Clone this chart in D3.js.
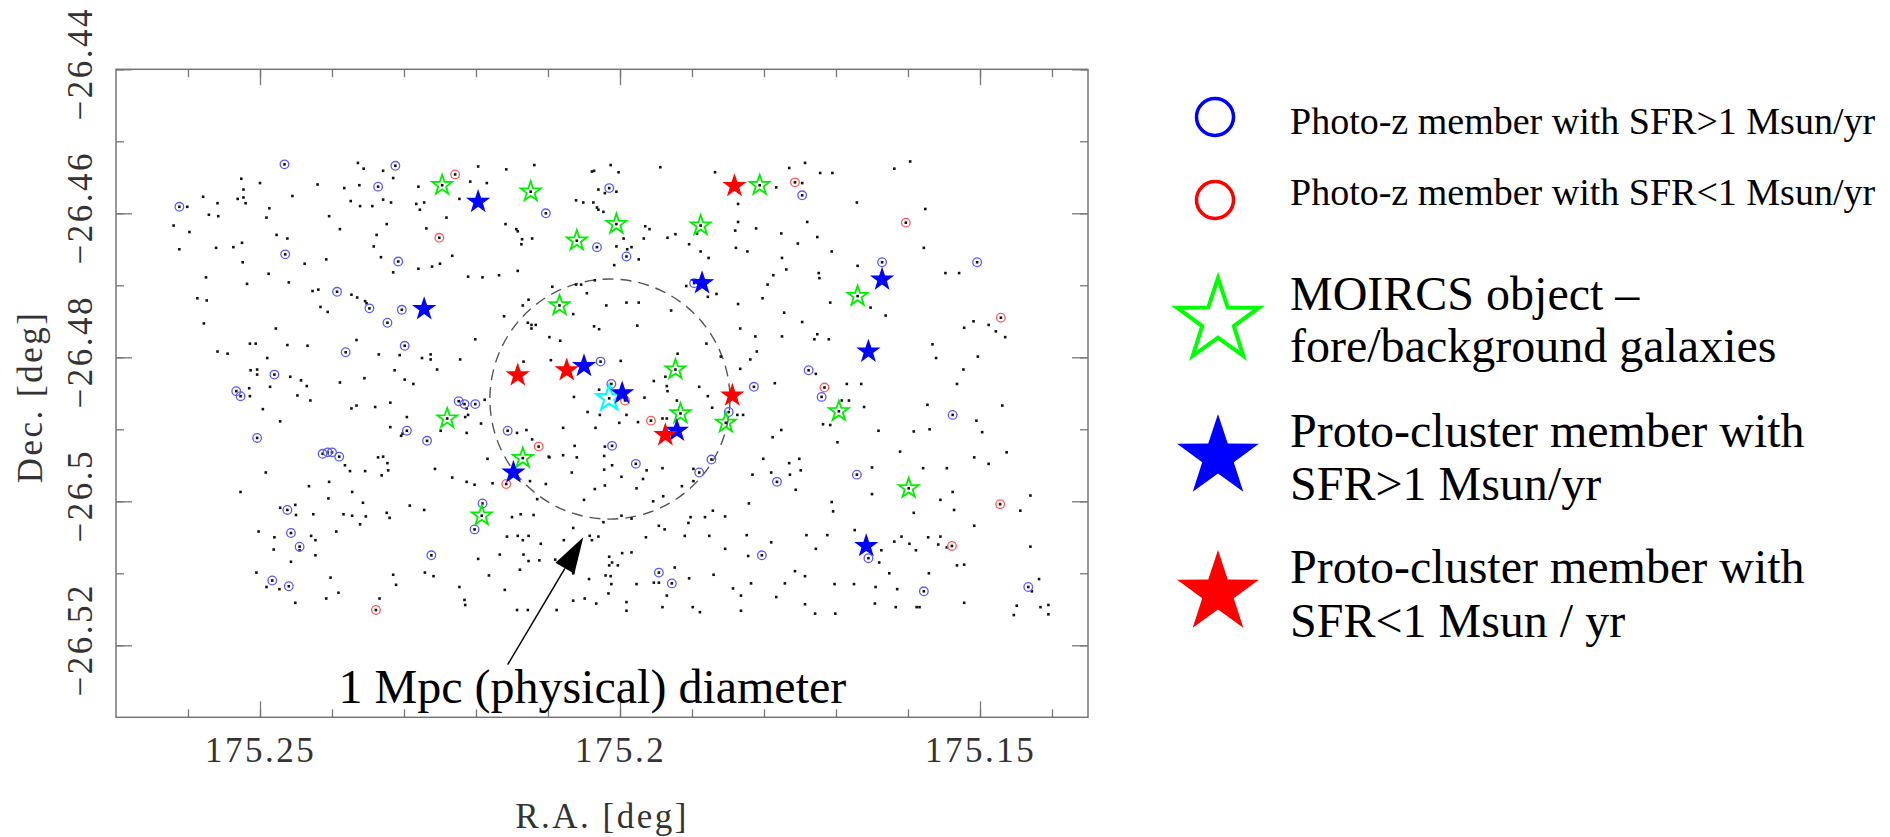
<!DOCTYPE html>
<html><head><meta charset="utf-8">
<script src="https://cdn.jsdelivr.net/npm/d3@7"></script>
<style>body{margin:0;background:#fff;} svg{display:block}</style>
</head><body>
<svg id="c" width="1890" height="837"></svg>
<script>
// ---------------- DATA ----------------
const raDomain = [175.27, 175.135];
const decDomain = [-26.44, -26.53];
const raMinorTicks = [175.26,175.25,175.24,175.23,175.22,175.21,175.20,175.19,175.18,175.17,175.16,175.15,175.14];
const raMajorTicks = [175.25,175.20,175.15];
const raTickLabels = ["175.25","175.2","175.15"];
const decMinorTicks = [-26.44,-26.45,-26.46,-26.47,-26.48,-26.49,-26.50,-26.51,-26.52];
const decMajorTicks = [-26.44,-26.46,-26.48,-26.50,-26.52];
const decTickLabels = ["\u221226.44","\u221226.46","\u221226.48","\u221226.5","\u221226.52"];

// catalogue objects (RA, Dec in deg)
const catalogDots = [
[175.2364,-26.4530],[175.2356,-26.4538],[175.2329,-26.4541],[175.2315,-26.4551],[175.2197,-26.4535],[175.2158,-26.4539],[175.2119,-26.4533],[175.2526,-26.4552],[175.2500,-26.4558],[175.2420,-26.4560],[175.2383,-26.4565],[175.2362,-26.4561],[175.2280,-26.4563],[175.2208,-26.4556],[175.2185,-26.4558],[175.2579,-26.4577],[175.2559,-26.4586],[175.2531,-26.4580],[175.2523,-26.4578],[175.2520,-26.4586],[175.2523,-26.4567],[175.2455,-26.4576],[175.2374,-26.4583],[175.2361,-26.4590],[175.2344,-26.4590],[175.2329,-26.4581],[175.2318,-26.4585],[175.2283,-26.4587],[175.2272,-26.4585],[175.2278,-26.4595],[175.2223,-26.4580],[175.2601,-26.4591],[175.2571,-26.4602],[175.2558,-26.4604],[175.2487,-26.4593],[175.2491,-26.4606],[175.2404,-26.4604],[175.2241,-26.4606],[175.2620,-26.4617],[175.2598,-26.4626],[175.2389,-26.4622],[175.2324,-26.4615],[175.2269,-26.4621],[175.2159,-26.4615],[175.2144,-26.4622],[175.2142,-26.4625],[175.2612,-26.4650],[175.2561,-26.4648],[175.2537,-26.4647],[175.2525,-26.4641],[175.2477,-26.4630],[175.2462,-26.4635],[175.2338,-26.4630],[175.2342,-26.4646],[175.2136,-26.4636],[175.2122,-26.4635],[175.2137,-26.4643],[175.2524,-26.4668],[175.2438,-26.4670],[175.2408,-26.4664],[175.2332,-26.4661],[175.2233,-26.4659],[175.2250,-26.4670],[175.2261,-26.4674],[175.2280,-26.4677],[175.2315,-26.4682],[175.2142,-26.4680],[175.2575,-26.4689],[175.2488,-26.4684],[175.2518,-26.4698],[175.2460,-26.4696],[175.2211,-26.4688],[175.2191,-26.4689],[175.2168,-26.4686],[175.2587,-26.4718],[175.2574,-26.4721],[175.2427,-26.4708],[175.2419,-26.4706],[175.2373,-26.4713],[175.2365,-26.4717],[175.2354,-26.4722],[175.2352,-26.4725],[175.2416,-26.4730],[175.2406,-26.4737],[175.2161,-26.4743],[175.2135,-26.4728],[175.2127,-26.4720],[175.2578,-26.4753],[175.2478,-26.4760],[175.2128,-26.4752],[175.2123,-26.4755],[175.2117,-26.4755],[175.2123,-26.4760],[175.2366,-26.4776],[175.2559,-26.4792],[175.2545,-26.4795],[175.2514,-26.4781],[175.2506,-26.4781],[175.2462,-26.4783],[175.2434,-26.4784],[175.2335,-26.4796],[175.2306,-26.4797],[175.2275,-26.4801],[175.2263,-26.4796],[175.2263,-26.4803],[175.2222,-26.4803],[175.2201,-26.4775],[175.2098,-26.4772],[175.2254,-26.4817],[175.2490,-26.4801],[175.2513,-26.4818],[175.2504,-26.4817],[175.2504,-26.4824],[175.2458,-26.4827],[175.2443,-26.4832],[175.2435,-26.4840],[175.2486,-26.4841],[175.2389,-26.4835],[175.2355,-26.4829],[175.2313,-26.4818],[175.2299,-26.4831],[175.2287,-26.4837],[175.2134,-26.4806],[175.2515,-26.4843],[175.2514,-26.4854],[175.2448,-26.4853],[175.2430,-26.4860],[175.2373,-26.4871],[175.2366,-26.4867],[175.2340,-26.4869],[175.2319,-26.4863],[175.2188,-26.4859],[175.2296,-26.4883],
[175.2496,-26.4872],[175.2472,-26.4889],[175.2319,-26.4897],[175.2304,-26.4909],[175.2302,-26.4906],[175.2249,-26.4902],[175.2213,-26.4905],[175.2213,-26.4871],[175.2215,-26.4883],[175.2211,-26.4880],[175.2193,-26.4892],[175.2143,-26.4905],[175.2130,-26.4901],[175.2122,-26.4914],[175.2099,-26.4938],[175.2492,-26.4960],[175.2527,-26.4987],[175.2432,-26.4979],[175.2404,-26.4973],[175.2382,-26.4950],[175.2375,-26.4958],[175.2354,-26.4958],[175.2336,-26.4939],[175.2329,-26.4938],[175.2323,-26.4947],[175.2322,-26.4957],[175.2331,-26.4964],[175.2257,-26.4955],[175.2233,-26.4967],[175.2213,-26.4973],[175.2202,-26.4977],[175.2184,-26.4941],[175.2177,-26.4975],[175.2125,-26.4972],[175.2103,-26.4976],[175.2098,-26.4939],[175.2405,-26.4996],[175.2372,-26.4987],[175.2357,-26.5002],[175.2472,-26.5009],[175.2451,-26.5005],[175.2450,-26.5019],[175.2426,-26.5018],[175.2384,-26.5018],[175.2372,-26.5020],[175.2361,-26.5032],[175.2353,-26.5021],[175.2324,-26.5016],[175.2320,-26.5023],[175.2292,-26.5006],[175.2272,-26.5012],[175.2150,-26.5022],[175.2138,-26.5018],[175.2120,-26.5019],[175.2115,-26.4997],[175.2502,-26.5042],[175.2480,-26.5050],[175.2481,-26.5067],[175.2429,-26.5048],[175.2423,-26.5054],[175.2423,-26.5075],[175.2457,-26.5084],[175.2445,-26.5068],[175.2394,-26.5042],[175.2157,-26.5049],[175.2142,-26.5048],[175.2135,-26.5054],[175.2127,-26.5048],[175.2110,-26.5059],[175.2134,-26.5074],[175.2127,-26.5083],[175.2112,-26.5082],[175.2197,-26.5080],[175.2167,-26.5074],[175.2505,-26.5099],[175.2491,-26.5119],[175.2473,-26.5122],[175.2451,-26.5141],[175.2402,-26.5106],[175.2391,-26.5127],[175.2408,-26.5135],[175.2334,-26.5135],[175.2315,-26.5102],[175.2311,-26.5116],[175.2271,-26.5099],[175.2259,-26.5104],[175.2223,-26.5119],[175.2216,-26.5137],[175.2215,-26.5144],[175.2182,-26.5103],[175.2160,-26.5123],[175.2139,-26.5095],[175.2143,-26.5151],[175.2128,-26.5151],[175.2088,-26.5151],
[175.2013,-26.4533],[175.2039,-26.4542],[175.2036,-26.4541],[175.2002,-26.4543],[175.1944,-26.4536],[175.1868,-26.4543],[175.1765,-26.4537],[175.1743,-26.4530],[175.1722,-26.4544],[175.1705,-26.4544],[175.1619,-26.4538],[175.1597,-26.4528],[175.2030,-26.4567],[175.2021,-26.4572],[175.2005,-26.4570],[175.2061,-26.4582],[175.2051,-26.4585],[175.2037,-26.4585],[175.2032,-26.4592],[175.2030,-26.4595],[175.2023,-26.4598],[175.1783,-26.4564],[175.1747,-26.4558],[175.1836,-26.4587],[175.1671,-26.4585],[175.1576,-26.4594],[175.1965,-26.4618],[175.1959,-26.4622],[175.1923,-26.4629],[175.1934,-26.4634],[175.1995,-26.4635],[175.2005,-26.4646],[175.1984,-26.4647],[175.1990,-26.4650],[175.1974,-26.4664],[175.2008,-26.4672],[175.1967,-26.4635],[175.1904,-26.4643],[175.1893,-26.4628],[175.1888,-26.4653],[175.1877,-26.4662],[175.1836,-26.4612],[175.1840,-26.4624],[175.1811,-26.4621],[175.1839,-26.4648],[175.1823,-26.4653],[175.1776,-26.4628],[175.1775,-26.4662],[175.1753,-26.4642],[175.1740,-26.4612],[175.1726,-26.4633],[175.1706,-26.4653],[175.1578,-26.4648],[175.1769,-26.4678],[175.1787,-26.4686],[175.1724,-26.4683],[175.1723,-26.4690],[175.1670,-26.4673],[175.1548,-26.4683],[175.1529,-26.4683],[175.2094,-26.4702],[175.2061,-26.4699],[175.2054,-26.4699],[175.2046,-26.4711],[175.2035,-26.4693],[175.1908,-26.4701],[175.1878,-26.4716],[175.1866,-26.4712],[175.1795,-26.4699],[175.1802,-26.4718],[175.1836,-26.4726],[175.1708,-26.4724],[175.1652,-26.4731],[175.1631,-26.4742],[175.2019,-26.4728],[175.1991,-26.4724],[175.1974,-26.4724],[175.1929,-26.4735],[175.2065,-26.4740],[175.2036,-26.4757],[175.2029,-26.4761],[175.1976,-26.4756],[175.1772,-26.4738],[175.1747,-26.4751],[175.1833,-26.4760],[175.1812,-26.4771],[175.1775,-26.4771],[175.1726,-26.4768],[175.1730,-26.4775],[175.1710,-26.4775],[175.1566,-26.4782],[175.1561,-26.4801],[175.1522,-26.4759],[175.1509,-26.4750],[175.1488,-26.4755],[175.1478,-26.4764],[175.1465,-26.4772],[175.1503,-26.4799],[175.1523,-26.4817],[175.1532,-26.4837],[175.1573,-26.4866],[175.1469,-26.4867],[175.2083,-26.4777],[175.1880,-26.4781],[175.1810,-26.4792],[175.1819,-26.4803],[175.2096,-26.4804],[175.1999,-26.4805],[175.1920,-26.4795],[175.1860,-26.4799],[175.1833,-26.4816],[175.1785,-26.4836],[175.1685,-26.4837],[175.1665,-26.4837],[175.1953,-26.4833],[175.1937,-26.4827],[175.1935,-26.4840],[175.1934,-26.4847],[175.1890,-26.4841],[175.1878,-26.4854],[175.2064,-26.4855],[175.2029,-26.4845],[175.1966,-26.4856],[175.1921,-26.4860],[175.1872,-26.4870],[175.1692,-26.4860],[175.1682,-26.4860],[175.1661,-26.4869],[175.1728,-26.4823],[175.2028,-26.4880],[175.1991,-26.4880],
[175.2045,-26.4876],[175.2034,-26.4898],[175.2079,-26.4898],[175.2001,-26.4891],[175.1975,-26.4890],[175.1941,-26.4885],[175.1935,-26.4885],[175.1837,-26.4880],[175.1829,-26.4880],[175.2063,-26.4923],[175.2021,-26.4924],[175.2079,-26.4936],[175.2060,-26.4939],[175.2022,-26.4937],[175.2011,-26.4950],[175.2022,-26.4956],[175.2067,-26.4960],[175.1998,-26.4966],[175.1963,-26.4957],[175.1941,-26.4954],[175.1898,-26.4955],[175.1968,-26.4969],[175.1977,-26.4982],[175.2021,-26.4978],[175.2035,-26.4983],[175.2050,-26.4998],[175.1954,-26.5000],[175.1940,-26.4993],[175.1914,-26.4979],[175.1898,-26.4972],[175.1871,-26.5013],[175.1902,-26.5022],[175.1905,-26.5030],[175.1882,-26.5022],[175.1854,-26.5021],[175.2023,-26.5029],[175.1998,-26.5020],[175.1984,-26.5024],[175.1938,-26.5039],[175.1946,-26.5034],[175.1964,-26.5050],[175.1910,-26.5048],[175.1876,-26.5048],[175.1854,-26.5066],[175.1824,-26.5047],[175.1821,-26.5003],[175.2065,-26.5037],[175.2078,-26.5054],[175.2042,-26.5048],[175.2039,-26.5054],[175.2030,-26.5049],[175.2090,-26.5081],[175.2015,-26.5077],[175.2011,-26.5085],[175.2015,-26.5089],[175.2003,-26.5089],[175.1997,-26.5072],[175.1984,-26.5071],[175.2065,-26.5100],[175.2043,-26.5108],[175.2020,-26.5103],[175.2013,-26.5104],[175.2012,-26.5115],[175.2016,-26.5128],[175.2065,-26.5138],[175.2049,-26.5135],[175.2033,-26.5142],[175.1991,-26.5140],[175.1991,-26.5152],[175.1977,-26.5115],[175.1953,-26.5113],[175.1946,-26.5113],[175.1935,-26.5131],[175.1941,-26.5147],[175.1924,-26.5092],[175.1904,-26.5107],[175.1899,-26.5147],[175.1889,-26.5154],[175.1870,-26.5102],[175.1843,-26.5121],[175.1832,-26.5131],[175.1832,-26.5152],[175.1822,-26.5076],[175.1818,-26.5114],[175.1790,-26.5057],[175.1783,-26.5133],[175.1771,-26.5114],[175.1757,-26.5097],[175.1743,-26.5104],[175.1741,-26.5047],[175.1728,-26.5066],[175.1712,-26.5047],[175.1702,-26.5115],[175.1729,-26.5156],[175.1701,-26.5156],[175.1743,-26.5143],[175.1675,-26.5115],[175.1645,-26.5119],[175.1640,-26.5085],[175.1637,-26.5068],[175.1646,-26.5142],[175.1626,-26.5100],[175.1615,-26.5122],[175.1617,-26.5147],[175.1588,-26.5147],[175.1584,-26.5147],[175.1571,-26.5100],[175.1619,-26.5056],[175.1609,-26.5049],[175.1598,-26.5059],[175.1589,-26.5068],[175.1572,-26.5050],[175.1555,-26.5049],[175.1558,-26.5060],[175.1546,-26.5064],[175.1532,-26.5089],[175.1522,-26.5088],[175.1522,-26.5141],[175.1508,-26.5034],[175.1430,-26.5063],[175.1449,-26.5145],[175.1418,-26.5108],[175.1416,-26.5147],[175.1405,-26.5144],[175.1405,-26.5157],[175.1453,-26.5158],[175.1428,-26.5125],[175.1816,-26.4963],[175.1790,-26.4960],[175.1764,-26.4963],[175.1749,-26.4957],[175.1756,-26.4984],[175.1765,-26.4947],[175.1751,-26.4941],[175.1801,-26.4941],[175.1776,-26.4901],[175.1788,-26.4911],[175.1706,-26.5001],[175.1704,-26.5014],[175.1674,-26.5040],[175.1650,-26.4990],[175.1650,-26.4953],[175.1611,-26.4931],[175.1592,-26.4903],[175.1570,-26.4900],[175.1579,-26.4954],[175.1546,-26.4954],[175.1555,-26.4998],[175.1536,-26.5012],[175.1538,-26.4987],[175.1508,-26.4939],[175.1488,-26.4948],[175.1463,-26.4932],[175.1444,-26.5013],[175.1430,-26.4992],[175.1505,-26.4888],[175.1497,-26.4904],[175.1698,-26.4918],[175.1718,-26.4893],[175.1708,-26.4894],[175.1592,-26.5016],[175.1641,-26.4902]
];

const photozHighSFR = [
[175.2466,-26.4532],[175.2312,-26.4534],[175.2336,-26.4563],[175.2612,-26.4591],[175.2103,-26.4600],[175.2465,-26.4657],[175.2308,-26.4667],[175.2393,-26.4709],[175.2348,-26.4732],[175.2303,-26.4734],[175.2323,-26.4752],[175.2299,-26.4784],[175.2381,-26.4793],[175.2480,-26.4824],[175.2533,-26.4847],[175.2527,-26.4854],[175.2224,-26.4861],[175.2216,-26.4865],[175.2201,-26.4865],
[175.2504,-26.4912],[175.2296,-26.4902],[175.2268,-26.4916],[175.2156,-26.4902],[175.2413,-26.4934],[175.2406,-26.4932],[175.2400,-26.4932],[175.2390,-26.4938],[175.2462,-26.5012],[175.2457,-26.5044],[175.2445,-26.5063],[175.2191,-26.5003],[175.2202,-26.5039],[175.2262,-26.5075],[175.2483,-26.5110],[175.2460,-26.5118],
[175.2015,-26.4565],[175.2032,-26.4647],[175.1991,-26.4660],[175.1747,-26.4575],[175.1636,-26.4668],[175.1504,-26.4668],[175.1897,-26.4697],[175.2027,-26.4806],[175.2012,-26.4837],[175.1738,-26.4818],[175.1720,-26.4855],[175.1814,-26.4841],
[175.2011,-26.4923],[175.1978,-26.4948],[175.1890,-26.4960],[175.1873,-26.4942],[175.1849,-26.4876],[175.1782,-26.4973],[175.1671,-26.4963],[175.1538,-26.4880],[175.1803,-26.5075],[175.1655,-26.5079],[175.1946,-26.5099],[175.1928,-26.5114],[175.1578,-26.5125],[175.1433,-26.5119]
];
const photozLowSFR = [
[175.2229,-26.4546],[175.2251,-26.4634],[175.2113,-26.4924],[175.2158,-26.4976],[175.2339,-26.5151],[175.1757,-26.4557],[175.1603,-26.4613],[175.1471,-26.4745],[175.1716,-26.4842],[175.1993,-26.4860],[175.1957,-26.4888],[175.1472,-26.5004],[175.1539,-26.5062]
];
const moircsForeBack = [
[175.2247,-26.4561],[175.2124,-26.4570],[175.2060,-26.4638],[175.2005,-26.4615],[175.1888,-26.4617],[175.1806,-26.4561],[175.2084,-26.4728],[175.1670,-26.4715],[175.1923,-26.4817],[175.1916,-26.4878],[175.1853,-26.4891],[175.1696,-26.4875],[175.1599,-26.4982],[175.2240,-26.4885],[175.2135,-26.4940],[175.2192,-26.5020]
];
const protoHighSFR = [
[175.2197,-26.4584],[175.2272,-26.4733],[175.1886,-26.4697],[175.1636,-26.4692],[175.1655,-26.4792],[175.2050,-26.4812],[175.1997,-26.4850],[175.1921,-26.4902],[175.1658,-26.5062],[175.2148,-26.4960]
];
const protoLowSFR = [
[175.2142,-26.4825],[175.1841,-26.4562],[175.2074,-26.4818],[175.1844,-26.4853],[175.1937,-26.4908]
];
const centralObject = [[175.2015,-26.4857]];

// 1 Mpc (physical) diameter circle and annotation arrow
const circleCentre = [175.2014, -26.4858];
const circleRadiusDeg = 0.01667;
const arrowTail = [175.2156, -26.5227];
const arrowHead = [175.2051, -26.5050];
const annotText = "1 Mpc (physical) diameter";
const annotPos = [175.2391, -26.5280];

const xAxisTitle = "R.A. [deg]";
const yAxisTitle = "Dec. [deg]";

const legendLabels = [
  ["Photo-z member with SFR>1 Msun/yr"],
  ["Photo-z member with SFR<1 Msun/yr"],
  ["MOIRCS object \u2013", "fore/background galaxies"],
  ["Proto-cluster member with", "SFR>1 Msun/yr"],
  ["Proto-cluster member with", "SFR<1 Msun / yr"]
];

// ---------------- DRAW ----------------
const svg = d3.select("#c");
const x = d3.scaleLinear().domain(raDomain).range([116, 1088]);
const y = d3.scaleLinear().domain(decDomain).range([69.3, 717.3]);
const axisColor = "#777";
const serif = "'Liberation Serif', 'Times New Roman', serif";

function starPath(R, r) {
  const pts = [];
  for (let i = 0; i < 10; i++) {
    const a = -Math.PI / 2 + i * Math.PI / 5;
    const rad = i % 2 === 0 ? R : r;
    pts.push([rad * Math.cos(a), rad * Math.sin(a)]);
  }
  return "M" + pts.map(p => p[0].toFixed(2) + "," + p[1].toFixed(2)).join("L") + "Z";
}

// frame
svg.append("rect").attr("x", x(raDomain[0])).attr("y", y(decDomain[0]))
  .attr("width", x(raDomain[1]) - x(raDomain[0])).attr("height", y(decDomain[1]) - y(decDomain[0]))
  .attr("fill", "none").attr("stroke", axisColor).attr("stroke-width", 1.5);

function styleAxis(g) {
  g.select(".domain").remove();
  g.selectAll(".tick line").attr("stroke", axisColor).attr("stroke-width", 1.3);
  g.selectAll("text").attr("fill", "#333").attr("font-family", serif)
    .attr("font-size", 35).attr("letter-spacing", 2.5);
}
// bottom
svg.append("g").attr("transform", `translate(0,${y(decDomain[1])})`)
  .call(d3.axisBottom(x).tickValues(raMinorTicks).tickSize(-8).tickFormat("")).call(styleAxis);
svg.append("g").attr("transform", `translate(0,${y(decDomain[1])})`)
  .call(d3.axisBottom(x).tickValues(raMajorTicks).tickSize(-16).tickPadding(20)
    .tickFormat((d, i) => raTickLabels[i])).call(styleAxis);
// top
svg.append("g").attr("transform", `translate(0,${y(decDomain[0])})`)
  .call(d3.axisTop(x).tickValues(raMinorTicks).tickSize(-8).tickFormat("")).call(styleAxis);
svg.append("g").attr("transform", `translate(0,${y(decDomain[0])})`)
  .call(d3.axisTop(x).tickValues(raMajorTicks).tickSize(-16).tickFormat("")).call(styleAxis);
// left
svg.append("g").attr("transform", `translate(${x(raDomain[0])},0)`)
  .call(d3.axisLeft(y).tickValues(decMinorTicks).tickSize(-8).tickFormat("")).call(styleAxis);
const yl = svg.append("g").attr("transform", `translate(${x(raDomain[0])},0)`)
  .call(d3.axisLeft(y).tickValues(decMajorTicks).tickSize(-16)
    .tickFormat((d, i) => decTickLabels[i])).call(styleAxis);
yl.selectAll(".tick text").attr("transform", "rotate(-90)").attr("x", 6).attr("y", -24)
  .attr("dy", 0).attr("text-anchor", "middle");
// right
svg.append("g").attr("transform", `translate(${x(raDomain[1])},0)`)
  .call(d3.axisRight(y).tickValues(decMinorTicks).tickSize(-8).tickFormat("")).call(styleAxis);
svg.append("g").attr("transform", `translate(${x(raDomain[1])},0)`)
  .call(d3.axisRight(y).tickValues(decMajorTicks).tickSize(-16).tickFormat("")).call(styleAxis);

// axis titles
svg.append("text").attr("x", 602).attr("y", 828).attr("text-anchor", "middle")
  .attr("font-family", serif).attr("font-size", 35).attr("letter-spacing", 2.5).attr("fill", "#333")
  .text(xAxisTitle);
svg.append("text").attr("transform", "translate(42,397) rotate(-90)").attr("text-anchor", "middle")
  .attr("font-family", serif).attr("font-size", 35).attr("letter-spacing", 2.5).attr("fill", "#333")
  .text(yAxisTitle);

// dashed 1 Mpc circle
const rPix = Math.abs(x(circleCentre[0] + circleRadiusDeg) - x(circleCentre[0]));
svg.append("circle").attr("cx", x(circleCentre[0])).attr("cy", y(circleCentre[1])).attr("r", rPix)
  .attr("fill", "none").attr("stroke", "#555").attr("stroke-width", 1.4).attr("stroke-dasharray", "11,7");

const plot = svg.append("g");
// black catalogue dots
plot.selectAll(".dot").data(catalogDots.concat(photozHighSFR, photozLowSFR, moircsForeBack, centralObject))
  .enter().append("rect").attr("class", "dot")
  .attr("x", d => x(d[0]) - 1.3).attr("y", d => y(d[1]) - 1.3).attr("width", 2.6).attr("height", 2.6)
  .attr("fill", "#111");
// photo-z circles
plot.selectAll(".pzb").data(photozHighSFR).enter().append("circle")
  .attr("cx", d => x(d[0])).attr("cy", d => y(d[1])).attr("r", 4.3)
  .attr("fill", "none").attr("stroke", "#5b5bff").attr("stroke-width", 1.3);
plot.selectAll(".pzr").data(photozLowSFR).enter().append("circle")
  .attr("cx", d => x(d[0])).attr("cy", d => y(d[1])).attr("r", 4.3)
  .attr("fill", "none").attr("stroke", "#ff5b5b").attr("stroke-width", 1.3);
// MOIRCS fore/background open stars
plot.selectAll(".gs").data(moircsForeBack).enter().append("path")
  .attr("transform", d => `translate(${x(d[0])},${y(d[1])})`).attr("d", starPath(10.5, 4.1))
  .attr("fill", "none").attr("stroke", "#00ee00").attr("stroke-width", 1.8).attr("stroke-linejoin", "miter");
// central (cyan) object
plot.selectAll(".cs").data(centralObject).enter().append("path")
  .attr("transform", d => `translate(${x(d[0])},${y(d[1])})`).attr("d", starPath(13.5, 5.3))
  .attr("fill", "none").attr("stroke", "#00ffff").attr("stroke-width", 2.2);
// proto-cluster members filled stars
plot.selectAll(".bs").data(protoHighSFR).enter().append("path")
  .attr("transform", d => `translate(${x(d[0])},${y(d[1])})`).attr("d", starPath(12.8, 5.0))
  .attr("fill", "#0000ff");
plot.selectAll(".rs").data(protoLowSFR).enter().append("path")
  .attr("transform", d => `translate(${x(d[0])},${y(d[1])})`).attr("d", starPath(12.8, 5.0))
  .attr("fill", "#ff0000");

// arrow + annotation
const ax0 = x(arrowTail[0]), ay0 = y(arrowTail[1]), ax1 = x(arrowHead[0]), ay1 = y(arrowHead[1]);
const ang = Math.atan2(ay1 - ay0, ax1 - ax0);
const hl = 36, hw = 11;
const bx = ax1 - hl * Math.cos(ang), by = ay1 - hl * Math.sin(ang);
svg.append("line").attr("x1", ax0).attr("y1", ay0).attr("x2", bx).attr("y2", by)
  .attr("stroke", "#000").attr("stroke-width", 1.5);
svg.append("path").attr("d",
  `M${ax1},${ay1}L${bx + hw * Math.sin(ang)},${by - hw * Math.cos(ang)}L${bx - hw * Math.sin(ang)},${by + hw * Math.cos(ang)}Z`)
  .attr("fill", "#000");
svg.append("text").attr("x", x(annotPos[0])).attr("y", y(annotPos[1]))
  .attr("font-family", serif).attr("font-size", 48).attr("fill", "#000").text(annotText);

// legend
const lg = svg.append("g");
lg.append("circle").attr("cx", 1215).attr("cy", 117).attr("r", 18.5).attr("fill", "none")
  .attr("stroke", "#0000ff").attr("stroke-width", 3.5);
lg.append("circle").attr("cx", 1215).attr("cy", 200).attr("r", 18.5).attr("fill", "none")
  .attr("stroke", "#ff0000").attr("stroke-width", 3.5);
lg.append("path").attr("transform", "translate(1218,321)").attr("d", starPath(43, 16.6))
  .attr("fill", "none").attr("stroke", "#00ff00").attr("stroke-width", 4);
lg.append("path").attr("transform", "translate(1218,457)").attr("d", starPath(43, 16.6))
  .attr("fill", "#0000ff");
lg.append("path").attr("transform", "translate(1218,593)").attr("d", starPath(43, 16.6))
  .attr("fill", "#ff0000");
const legendLayout = [
  {y: [134], size: 38},
  {y: [205], size: 38},
  {y: [310, 362], size: 48},
  {y: [447, 500], size: 48},
  {y: [583, 637], size: 48}
];
legendLabels.forEach((lines, i) => {
  lines.forEach((t, j) => {
    lg.append("text").attr("x", 1290).attr("y", legendLayout[i].y[j])
      .attr("font-family", serif).attr("font-size", legendLayout[i].size).attr("fill", "#000").text(t);
  });
});
</script>
</body></html>
